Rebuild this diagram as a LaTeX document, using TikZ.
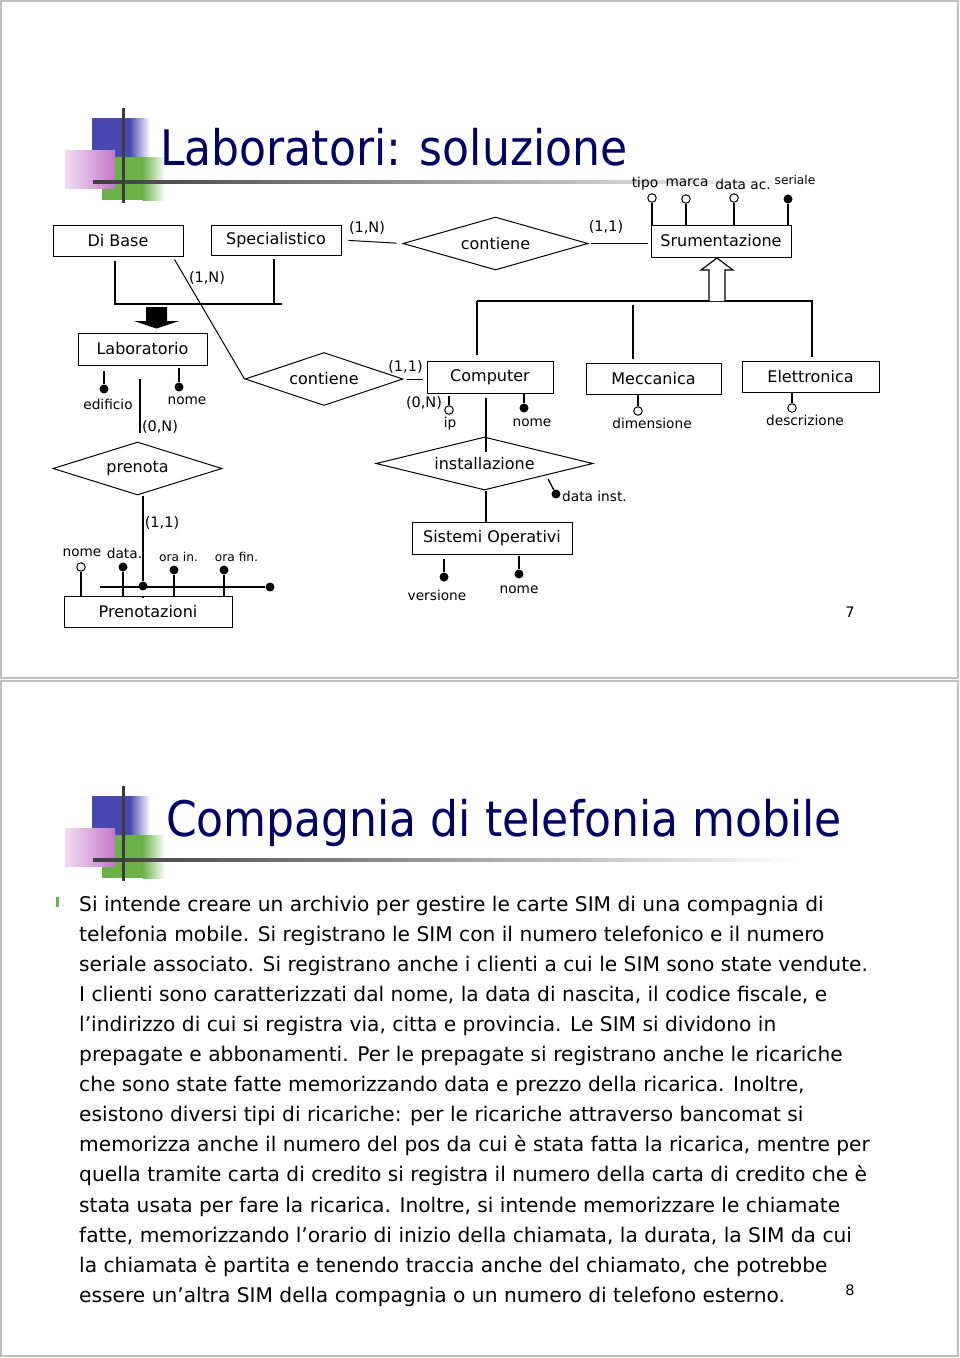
\documentclass[tikz,border=0pt]{standalone}
\usepackage{fontspec}
\setmainfont{DejaVu Sans}
\newfontfamily\titlefont{DejaVu Sans Condensed}
\usetikzlibrary{shapes.geometric}
\definecolor{navy}{RGB}{0,0,102}
\definecolor{logoblue}{RGB}{72,72,176}
\definecolor{logopink}{RGB}{196,120,200}
\definecolor{logogreen}{RGB}{106,178,72}
\definecolor{framegray}{RGB}{190,190,190}
\definecolor{barcol}{RGB}{60,60,60}
\newcommand\fE{\fontsize{16}{19}\selectfont}
\newcommand\fA{\fontsize{13.7}{16}\selectfont}
\newcommand\fC{\fontsize{14.5}{17}\selectfont}
\newcommand\fS{\fontsize{12.2}{14}\selectfont}
\newcommand\fB{\fontsize{20.2}{24}\selectfont}
\newcommand\fT{\titlefont\fontsize{49}{56}\selectfont}
\newcommand\drawlogo{%
  \fill[logoblue] (92,118) rectangle (130,157);
  \shade[left color=logoblue, right color=white] (129.5,118) rectangle (150,157);
  \fill[logogreen] (102,157) rectangle (143,200);
  \shade[left color=logogreen, right color=white] (142.5,157) rectangle (165,200);
  \shade[left color=logopink!25, right color=logopink] (65,150) rectangle (115,188);
  \shade[left color=barcol, middle color=barcol!60, right color=white] (93,180.5) rectangle (800,183.5);
  \draw[barcol, line width=3pt] (123,108) -- (123,203);
}
\begin{document}
\begin{tikzpicture}[x=1pt,y=-1pt,
  ent/.style={draw, line width=1pt, inner sep=0pt, font=\fE},
  rel/.style={diamond, draw, line width=1pt, inner sep=0pt, aspect=4, font=\fE},
  lab/.style={inner sep=0pt, font=\fA},
  slab/.style={inner sep=0pt, font=\fS},
  card/.style={inner sep=0pt, font=\fC},
  kdot/.style={circle, fill, inner sep=0pt, minimum size=9pt},
  odot/.style={circle, draw, fill=white, line width=1pt, inner sep=0pt, minimum size=8.5pt},
  conn/.style={line width=1.3pt},
  body/.style={anchor=base west, inner sep=0pt, font=\fB},
  ttl/.style={anchor=base west, inner sep=0pt, font=\fT, text=navy}]
\useasboundingbox (0,0) rectangle (960,1358);
\fill[white] (0,0) rectangle (960,1358);
% slide frames
\draw[framegray, line width=1.2pt] (1,1) rectangle (958,678);
\draw[framegray, line width=1.2pt] (1,681) rectangle (958,1356);

% ===== slide 1 =====
\drawlogo
\node[ttl] (t1) at (160,165) {Laboratori: soluzione};

% entities
\node[ent, minimum width=130pt, minimum height=31pt] (dibase) at (118,240.5) {Di Base};
\node[ent, minimum width=130pt, minimum height=30pt] (spec) at (276,240) {Specialistico};
\node[ent, minimum width=140pt, minimum height=32pt] (srum) at (721,241) {Srumentazione};
\node[ent, minimum width=129pt, minimum height=32pt] (lab) at (142.5,349) {Laboratorio};
\node[ent, minimum width=126pt, minimum height=32pt] (comp) at (490,377) {Computer};
\node[ent, minimum width=135pt, minimum height=31pt] (mecc) at (653.5,378.5) {Meccanica};
\node[ent, minimum width=137pt, minimum height=31pt] (elet) at (810.5,376.5) {Elettronica};
\node[ent, minimum width=160pt, minimum height=32pt] (so) at (492,538) {Sistemi Operativi};
\node[ent, minimum width=168pt, minimum height=31pt] (pren) at (148,611.5) {Prenotazioni};

% relationships
\node[rel, minimum width=185pt, minimum height=53pt] (cont1) at (495.5,243.5) {contiene};
\node[rel, minimum width=158pt, minimum height=53pt] (cont2) at (324,379) {contiene};
\node[rel, minimum width=169pt, minimum height=53pt] (preno) at (137.5,468.5) {prenota};
\node[rel, minimum width=217pt, minimum height=53pt] (inst) at (484.5,463.5) {installazione};

% Specialistico - contiene - Srumentazione
\draw[conn, line width=1pt, shorten <=7pt, shorten >=6pt] (spec.east) -- (cont1.west);
\node[card] (c1) at (367,228) {(1,N)};
\draw[conn, line width=1pt, shorten <=2pt, shorten >=3pt] (cont1.east) -- (srum.west |- cont1.east);
\node[card] (c2) at (606,227) {(1,1)};

% Di Base - contiene (2)
\draw[line width=1pt] ([xshift=-9pt,yshift=-3pt]dibase.south east) -- (cont2.west);
\node[card] (c3) at (207,278) {(1,N)};

% generalization Di Base / Specialistico -> Laboratorio
\coordinate (g1a) at (115,304);
\coordinate (g1b) at (274,304);
\coordinate (g1c) at (282,304);
\draw[conn, shorten <=4pt] (dibase.south -| g1a) -- (g1a) -- (g1c);
\draw[conn, shorten <=3pt] (spec.south -| g1b) -- (g1b);
\fill (146,307) -- (167,307) -- (167,321) -- (179,321) -- (156.5,328.5) -- (134,321) -- (146,321) -- cycle;

% generalization Computer / Meccanica / Elettronica -> Srumentazione
\coordinate (g2a) at (477,301);
\coordinate (g2b) at (813,301);
\coordinate (g2m) at (633,301);
\coordinate (g2e) at (812,301);
\draw[conn] (g2a) -- (g2b);
\draw[conn, shorten >=6pt] (g2a) -- (comp.north -| g2a);
\draw[conn, shorten <=4pt, shorten >=4pt] (g2m) -- (mecc.north -| g2m);
\draw[conn, shorten >=4pt] (g2e) -- (elet.north -| g2e);
\draw[line width=1.2pt, fill=white] (709,301) -- (709,270) -- (701,270) -- (717,258) -- (733,270) -- (725,270) -- (725,301);

% Srumentazione attributes
\node[odot] (tipo) at (652,198) {};
\node[odot] (marca) at (686,199) {};
\node[odot] (datac) at (734,198) {};
\node[kdot] (seriale) at (788,199) {};
\foreach \a in {tipo,marca,datac,seriale} \draw[conn] (\a) -- (\a |- srum.north);
\node[lab] (tipol) at (645,184) {tipo};
\node[lab] (marcal) at (687,183) {marca};
\node[lab] (datacl) at (743,184) {data ac.};
\node[slab] (serialel) at (795,180) {seriale};

% Laboratorio attributes
\node[kdot] (edif) at (104,389) {};
\draw[conn, shorten <=5pt] (edif |- lab.south) -- (edif);
\node[lab] (edifl) at (108,404) {edificio};
\node[kdot] (lnome) at (179,387) {};
\draw[conn, shorten <=2pt] (lnome |- lab.south) -- (lnome);
\node[lab] (lnomel) at (187,401) {nome};

% Laboratorio - prenota - Prenotazioni
\draw[conn, shorten <=13pt, shorten >=9pt] ([xshift=-2.5pt]lab.south) -- ([xshift=2.5pt]preno.north);
\node[card] (c4) at (160,427) {(0,N)};
\node[kdot] (pk) at (143,586) {};
\draw[conn, shorten <=7pt] ([xshift=5.5pt]preno.south) -- (pk) -- (pk |- pren.north);
\node[card] (c5) at (162,523) {(1,1)};
\coordinate (ida) at (100,587);
\node[kdot] (idb) at (270,587) {};
\draw[conn] (ida) -- (idb);

% Prenotazioni attributes
\node[odot] (pnome) at (81,567) {};
\node[kdot] (pdata) at (123,567) {};
\node[kdot] (orain) at (174,570) {};
\node[kdot] (orafin) at (224,570) {};
\foreach \a in {pnome,pdata,orain,orafin} \draw[conn] (\a) -- (\a |- pren.north);
\node[lab] (pnomel) at (82,553) {nome};
\node[lab] (pdatal) at (124.5,553) {data.};
\node[slab] (orainl) at (178.5,557) {ora in.};
\node[slab] (orafinl) at (236.5,557) {ora fin.};

% contiene (2) - Computer
\draw[line width=1pt, shorten <=3pt, shorten >=4pt] (cont2.east) -- (comp.west |- cont2.east);
\node[card] (c6) at (405.5,367) {(1,1)};

% Computer attributes
\node[odot] (ip) at (449,410) {};
\draw[conn, shorten <=2pt] (ip |- comp.south) -- (ip);
\node[lab] (ipl) at (450,424) {ip};
\node[card] (c7) at (424,403) {(0,N)};
\node[kdot] (cnome) at (524,408) {};
\draw[conn] (cnome |- comp.south) -- (cnome);
\node[lab] (cnomel) at (532,423) {nome};

% Computer - installazione - Sistemi Operativi
\coordinate (ci) at (486,452);
\draw[conn, shorten <=4pt] (comp.south -| ci) -- (ci);
\draw[conn] (inst.south -| ci) -- (so.north -| ci);
\coordinate (dis) at (548,479);
\node[kdot] (dinst) at (556,494) {};
\draw[conn] (dis) -- (dinst);
\node[lab, anchor=west] (dinstl) at (562,496) {data inst.};

% Sistemi Operativi attributes
\node[kdot] (vers) at (444,577) {};
\draw[conn, shorten <=4pt] (vers |- so.south) -- (vers);
\node[lab] (versl) at (437,595) {versione};
\node[kdot] (sonome) at (519,574) {};
\draw[conn, shorten <=1pt] (sonome |- so.south) -- (sonome);
\node[lab] (sonomel) at (519,590) {nome};

% Meccanica / Elettronica attributes
\node[odot] (dim) at (638,411) {};
\draw[conn] (dim |- mecc.south) -- (dim);
\node[lab] (diml) at (652,423) {dimensione};
\node[odot] (descr) at (792,408) {};
\draw[conn] (descr |- elet.south) -- (descr);
\node[lab] (descrl) at (805,420) {descrizione};

\node[inner sep=0pt, font=\fC] (p7) at (850,612) {7};

% ===== slide 2 =====
\begin{scope}[shift={(0,678)}]
\drawlogo
\end{scope}
\node[ttl] (t2) at (166,836) {Compagnia di telefonia mobile};
\fill[logogreen] (55.5,897) rectangle (58.5,907);
\node[body] (l1) at (79,911) {Si intende creare un archivio per gestire le carte SIM di una compagnia di};
\node[body] (l2) at (79,941.1) {telefonia mobile. Si registrano le SIM con il numero telefonico e il numero};
\node[body] (l3) at (79,971.2) {seriale associato. Si registrano anche i clienti a cui le SIM sono state vendute.};
\node[body] (l4) at (79,1001.3) {I clienti sono caratterizzati dal nome, la data di nascita, il codice fiscale, e};
\node[body] (l5) at (79,1031.4) {l’indirizzo di cui si registra via, citta e provincia. Le SIM si dividono in};
\node[body] (l6) at (79,1061.5) {prepagate e abbonamenti. Per le prepagate si registrano anche le ricariche};
\node[body] (l7) at (79,1091.6) {che sono state fatte memorizzando data e prezzo della ricarica. Inoltre,};
\node[body] (l8) at (79,1121.7) {esistono diversi tipi di ricariche: per le ricariche attraverso bancomat si};
\node[body] (l9) at (79,1151.8) {memorizza anche il numero del pos da cui è stata fatta la ricarica, mentre per};
\node[body] (l10) at (79,1181.9) {quella tramite carta di credito si registra il numero della carta di credito che è};
\node[body] (l11) at (79,1212) {stata usata per fare la ricarica. Inoltre, si intende memorizzare le chiamate};
\node[body] (l12) at (79,1242.1) {fatte, memorizzando l’orario di inizio della chiamata, la durata, la SIM da cui};
\node[body] (l13) at (79,1272.2) {la chiamata è partita e tenendo traccia anche del chiamato, che potrebbe};
\node[body] (l14) at (79,1302.3) {essere un’altra SIM della compagnia o un numero di telefono esterno.};
\node[inner sep=0pt, font=\fC] (p8) at (850,1290) {8};
\end{tikzpicture}
\end{document}
